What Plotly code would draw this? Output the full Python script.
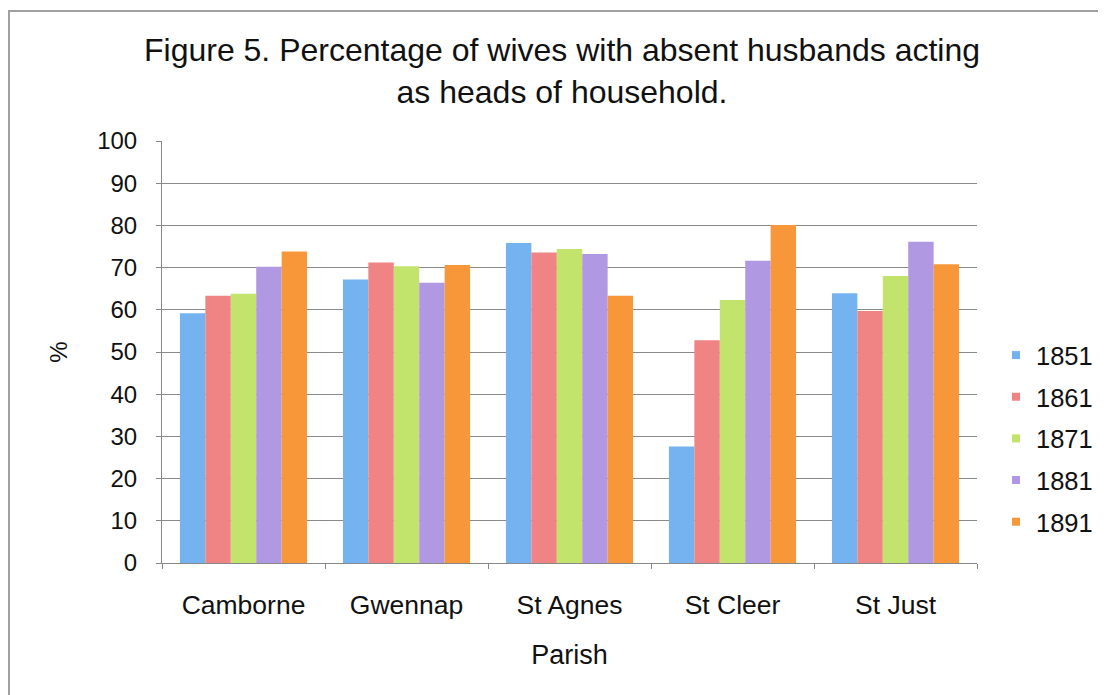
import plotly.graph_objects as go

parishes = ["Camborne", "Gwennap", "St Agnes", "St Cleer", "St Just"]
years = ["1851", "1861", "1871", "1881", "1891"]
values = {
    "1851": [59.2, 67.2, 75.8, 27.6, 63.9],
    "1861": [63.3, 71.2, 73.6, 52.8, 59.7],
    "1871": [63.8, 70.3, 74.4, 62.3, 68.0],
    "1881": [70.2, 66.4, 73.2, 71.6, 76.1],
    "1891": [73.8, 70.6, 63.3, 80.1, 70.8],
}
colors = {
    "1851": "#74b2f0",
    "1861": "#f08383",
    "1871": "#c3e46c",
    "1881": "#b198e2",
    "1891": "#f7973a",
}

fig = go.Figure()
for y in years:
    fig.add_trace(go.Bar(
        x=parishes, y=values[y], name=y, showlegend=False,
        marker=dict(color=colors[y], line=dict(width=0)),
    ))
for y in years:
    fig.add_trace(go.Scatter(
        x=[None], y=[None], name=y, mode="markers", legendgroup=y,
        marker=dict(symbol="square", size=8, color=colors[y]),
    ))

OFF = 8  # page body margin
W, H = 1106 - OFF, 695 - OFF
L, T = 162 - OFF, 141 - OFF
R = W - (977 - OFF)
B = H - (563 - OFF)
pw, ph = W - L - R, H - T - B

def px(x):
    return (x - OFF - L) / pw

def py(y):
    return (H - B - (y - OFF)) / ph

fig.update_layout(
    width=W, height=H,
    margin=dict(l=L, r=R, t=T, b=B, autoexpand=False),
    paper_bgcolor="white", plot_bgcolor="white",
    font=dict(family="Liberation Sans, Arial, sans-serif", color="#111111"),
    title=dict(
        text="Figure 5. Percentage of wives with absent husbands acting<br>as heads of household.",
        x=(562 - OFF) / W, xanchor="center", y=1 - (61 - OFF) / H, yanchor="middle",
        font=dict(size=32, color="#111111"),
    ),
    barmode="group", bargap=0.22, bargroupgap=0,
    showlegend=True,
    legend=dict(
        x=px(996), y=py(332), xanchor="left", yanchor="top",
        font=dict(size=25.5, color="#111111"), bgcolor="rgba(0,0,0,0)",
        itemwidth=30, tracegroupgap=5.5, traceorder="grouped",
    ),
    xaxis=dict(
        title=dict(text="Parish", font=dict(size=27), standoff=26),
        tickfont=dict(size=26.5), showline=True, linecolor="#888888", linewidth=1,
        ticks="outside", tickson="boundaries", ticklen=5, tickcolor="#888888",
        ticklabelstandoff=18, showgrid=False,
    ),
    yaxis=dict(
        title=dict(text="%", font=dict(size=24), standoff=22),
        range=[0, 100], dtick=10, tickfont=dict(size=24),
        showline=True, linecolor="#888888", linewidth=1,
        ticks="outside", ticklen=5, tickcolor="#888888", ticklabelstandoff=14,
        showgrid=True, gridcolor="#8a8a8a", gridwidth=1, zeroline=False,
    ),
    shapes=[dict(
        type="rect", xref="paper", yref="paper",
        x0=px(9), x1=px(1130), y0=py(720), y1=py(11),
        line=dict(color="#a0a0a0", width=2), fillcolor="rgba(0,0,0,0)", layer="below",
    )],
)

fig.write_html("out.html")
